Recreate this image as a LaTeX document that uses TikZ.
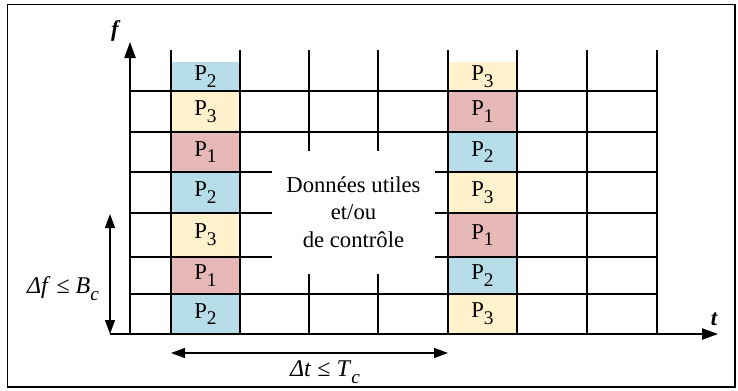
\documentclass[tikz,border=0pt]{standalone}
\usepackage{fontspec}
\setmainfont{Liberation Serif}
\usetikzlibrary{arrows.meta, positioning}
\definecolor{pcol1}{HTML}{E6B9B8}
\definecolor{pcol2}{HTML}{B7DDE8}
\definecolor{pcol3}{HTML}{FFF2CC}
% large, lowered subscript as in the drawing
\newcommand{\lowsub}[1]{\raisebox{-0.3em}{\fontsize{14.5}{15}\selectfont #1}}

\begin{document}
\begin{tikzpicture}[x=0.75pt, y=-0.75pt,
    grid/.style={line width=1pt},
    axis/.style={line width=1pt, -{Triangle[length=12pt, width=8.5pt]}},
    span/.style={line width=1pt, {Triangle[length=10.5pt, width=7.5pt]}-{Triangle[length=10.5pt, width=7.5pt]}},
    lbl/.style={font=\fontsize{17}{20.6}\selectfont},
    axlbl/.style={font=\fontsize{17}{20}\selectfont\bfseries\itshape}]
  \useasboundingbox (0,0) rectangle (738,390);
  % ================= frame =================
  \draw[line width=1pt] (7.5,4.5) rectangle (735,387);
  % ================= pilot columns =================
  \foreach \ytop/\ybot/\pa/\pb [count=\r] in {62/91/2/3, 91/132/3/1, 132/172/1/2,
      172/213/2/3, 213/257/3/1, 257/294/1/2, 294/334/2/3} {
    \fill[pcol\pa] (171,\ytop) rectangle (240,\ybot);
    \node[lbl] (pa\r) at (205.5,{(\ytop+\ybot)/2}) {P\lowsub{\pa}};
    \fill[pcol\pb] (448,\ytop) rectangle (517,\ybot);
    \node[lbl] (pb\r) at (482.5,{(\ytop+\ybot)/2}) {P\lowsub{\pb}};
  }
  % ================= time-frequency grid =================
  \foreach \y in {91,132,172,213,257,294}
    \draw[grid] (130,\y) -- (657,\y);
  \foreach \x in {171,240,309,378,448,517,587,657}
    \draw[grid] (\x,50) -- (\x,334);
  % data area (masks the grid)
  \node[lbl, fill=white, align=center,
    minimum width=122.25pt, minimum height=92.25pt]
    (data) at (353.5,212) {Données utiles\\et/ou\\de contrôle};
  % ================= axes =================
  \coordinate (orig) at (130,334);
  \coordinate (tstart) at (110,334);
  \coordinate (tend) at (718,334);
  \coordinate (fend) at (130,42);
  \draw[axis] (tstart) -- (tend);
  \draw[axis] (orig) -- (fend);
  \node[axlbl] (flbl) at (115,31) {f};
  \node[axlbl] (tlbl) at (714,319) {t};
  % ================= coherence spans =================
  \coordinate (dftop) at (110,214);
  \coordinate (dfbot) at (110,334);
  \draw[span] (dftop) -- (dfbot);
  \node[lbl, font=\fontsize{18}{20}\selectfont] (dflbl) at (63,289)
    {\textit{Δf} ≤ \textit{B}\lowsub{\textit{c}}};
  \coordinate (dtleft) at (171,353);
  \coordinate (dtright) at (448,353);
  \draw[span] (dtleft) -- (dtright);
  \node[lbl, font=\fontsize{18}{20}\selectfont] (dtlbl) at (325,372)
    {\textit{Δt} ≤ \textit{T}\lowsub{\textit{c}}};
\end{tikzpicture}
\end{document}
